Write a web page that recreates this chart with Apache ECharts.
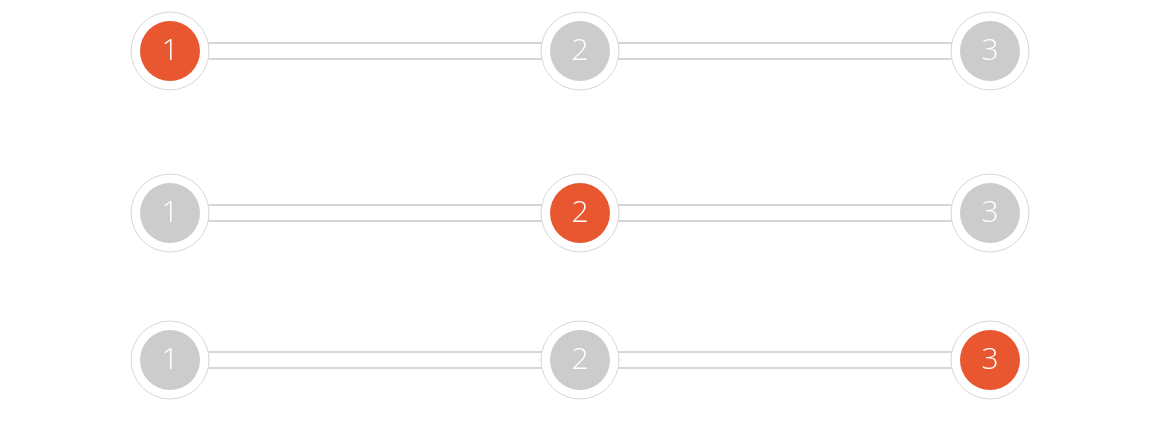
<!DOCTYPE html>
<html><head><meta charset="utf-8">
<script src="https://cdn.jsdelivr.net/npm/echarts@6/dist/echarts.min.js"></script>
<style>html,body{margin:0;background:#fff}#c{width:1160px;height:444px}</style>
</head><body><div id="c"></div>
<script>
const steps = ['我的购物车', '确认订单', '支付成功'];
const stepNumbers = ['1', '2', '3'];
const rowY = [51, 213, 360];
const activeStep = [0, 1, 2];

const series = [];
const outer = [], inner = [], names = [];
rowY.forEach((y, r) => {
  const pts = steps.map((s, i) => [i, y]);
  series.push({type:'line', data:pts, symbol:'none', silent:true, z:1, lineStyle:{color:'#d6d6d6', width:18}});
  series.push({type:'line', data:pts, symbol:'none', silent:true, z:2, lineStyle:{color:'#ffffff', width:14}});
  steps.forEach((s, i) => {
    outer.push([i, y]);
    inner.push({value:[i, y], num:stepNumbers[i], itemStyle:{color: i === activeStep[r] ? '#e8572f' : '#cccccc'}});
    names.push({value:[i, y], name:s});
  });
});
series.push({type:'scatter', data:outer, symbolSize:78, z:3, silent:true, itemStyle:{color:'#fff', borderColor:'#d6d6d6', borderWidth:1, opacity:1}});
series.push({type:'scatter', data:inner, symbolSize:60, z:4, silent:true, itemStyle:{opacity:1},
  label:{show:true, position:'inside', formatter:p=>p.data.num, color:'#fff', fontSize:30, fontFamily:'Open Sans', fontWeight:300}});
series.push({type:'scatter', data:names, symbolSize:1, z:5, silent:true, itemStyle:{opacity:0},
  label:{show:true, position:'inside', offset:[0,66], formatter:p=>p.data.name, color:'#666', fontSize:18, fontFamily:'Noto Sans CJK SC'}});

const chart = echarts.init(document.getElementById('c'));
chart.setOption({
  animation:false,
  grid:{left:0, right:0, top:0, bottom:0},
  xAxis:{type:'value', min:-170/410, max:990/410, show:false},
  yAxis:{type:'value', min:0, max:444, inverse:true, show:false},
  series
});
</script></body></html>
